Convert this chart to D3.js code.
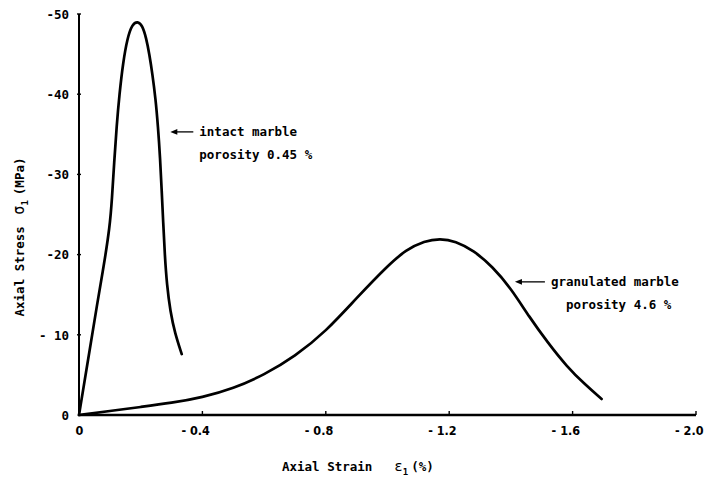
<!DOCTYPE html>
<html>
<head>
<meta charset="utf-8">
<script src="https://cdn.jsdelivr.net/npm/d3@7"></script>
<style>
  html, body { margin: 0; padding: 0; background: #fff; }
  svg { display: block; }
  text { font-family: "DejaVu Sans Mono", monospace; font-weight: bold; fill: #000; }
</style>
</head>
<body>
<svg id="chart" width="704" height="479"></svg>
<script>
// ---- data (axial strain %, axial stress MPa; compression negative) ----
const intactStrain = [0, -0.030, -0.059, -0.080, -0.100, -0.107, -0.114, -0.122, -0.131, -0.143, -0.157, -0.172, -0.190, -0.205, -0.218, -0.228, -0.238, -0.248, -0.256, -0.263, -0.268, -0.273, -0.278, -0.285, -0.296, -0.311, -0.333];
const intactStress = [0, -7.0, -13.9, -18.5, -23.5, -27.0, -31.5, -36.0, -40.0, -44.0, -47.0, -48.7, -49.1, -48.6, -47.0, -45.0, -42.5, -39.5, -36.0, -32.0, -28.0, -24.0, -20.0, -16.2, -12.9, -10.2, -7.6];

const granStrain = [0, -0.1, -0.2, -0.3, -0.4, -0.5, -0.6, -0.7, -0.8, -0.9, -1.0, -1.06, -1.12, -1.17, -1.22, -1.28, -1.34, -1.40, -1.46, -1.52, -1.58, -1.64, -1.694];
const granStress = [0, -0.5, -1.0, -1.5, -2.2, -3.3, -5.0, -7.3, -10.4, -14.6, -18.6, -20.6, -21.7, -22.0, -21.7, -20.5, -18.5, -15.8, -12.2, -9.0, -6.1, -3.8, -2.0];

const xTickValues = [0, -0.4, -0.8, -1.2, -1.6, -2.0];
const xTickLabels = ["0", "- 0.4", "- 0.8", "- 1.2", "- 1.6", "- 2.0"];
const yTickValues = [0, -10, -20, -30, -40, -50];
const yTickLabels = ["0", "- 10", "-20", "-30", "-40", "-50"];

const annoLabels = [
  ["intact marble", "porosity 0.45 %"],
  ["granulated marble", "porosity 4.6 %"]
];
const annoStrain = [-0.296, -1.413];
const annoStress = [-35.3, -16.6];

// ---- layout ----
const svg = d3.select("#chart");
const x = d3.scaleLinear().domain([0, -2.0]).range([79, 696]);
const y = d3.scaleLinear().domain([0, -50]).range([415, 14]);

// axes
const xAxis = d3.axisBottom(x).tickValues(xTickValues).tickSize(0).tickFormat((d, i) => xTickLabels[i]);
const yAxis = d3.axisLeft(y).tickValues(yTickValues).tickSize(0).tickFormat((d, i) => yTickLabels[i]);

const gx = svg.append("g").attr("transform", `translate(0,${y(0)})`).call(xAxis);
gx.select(".domain").remove();
gx.selectAll("text")
  .attr("y", 11).attr("dy", "0.71em")
  .attr("text-anchor", (d, i) => i === 0 ? "middle" : "end")
  .attr("x", (d, i) => i === 0 ? 0 : 7)
  .style("font-family", "'DejaVu Sans Condensed', 'DejaVu Sans', sans-serif")
  .style("font-size", "12.5px");

const gy = svg.append("g").attr("transform", `translate(${x(0)},0)`).call(yAxis);
gy.select(".domain").remove();
gy.selectAll("text").attr("x", -10).attr("dy", "0.35em").style("font-size", "12.5px");

// axis lines
svg.append("line").attr("x1", x(0)).attr("x2", x(-2.0)).attr("y1", y(0)).attr("y2", y(0))
  .attr("stroke", "#000").attr("stroke-width", 2.6);
svg.append("line").attr("x1", x(0)).attr("x2", x(0)).attr("y1", y(0)).attr("y2", y(-50))
  .attr("stroke", "#000").attr("stroke-width", 2);

// inward ticks
svg.selectAll(".xt").data(xTickValues.slice(1)).enter().append("line")
  .attr("x1", d => x(d)).attr("x2", d => x(d)).attr("y1", y(0)).attr("y2", y(0) - 4)
  .attr("stroke", "#000").attr("stroke-width", 1.4);
svg.selectAll(".yt").data(yTickValues.slice(1)).enter().append("line")
  .attr("x1", x(0) - 2).attr("x2", x(0) + 2).attr("y1", d => y(d)).attr("y2", d => y(d))
  .attr("stroke", "#000").attr("stroke-width", 1.4);

// curves
const line = d3.line().x(d => x(d[0])).y(d => y(d[1])).curve(d3.curveBasis);
const intact = intactStrain.map((s, i) => [s, intactStress[i]]);
const gran = granStrain.map((s, i) => [s, granStress[i]]);
[intact, gran].forEach(data => {
  svg.append("path").datum(data).attr("d", line)
    .attr("fill", "none").attr("stroke", "#000").attr("stroke-width", 2.7)
    .attr("stroke-linejoin", "round").attr("stroke-linecap", "round");
});

// annotations with arrows
const arrowLen = [23, 30];
annoLabels.forEach((lines, i) => {
  const ax = x(annoStrain[i]), ay = y(annoStress[i]);
  const g = svg.append("g");
  g.append("line").attr("x1", ax + 3).attr("x2", ax + arrowLen[i]).attr("y1", ay).attr("y2", ay)
    .attr("stroke", "#000").attr("stroke-width", 1.3);
  g.append("path").attr("d", `M${ax},${ay} L${ax + 7},${ay - 2.8} L${ax + 7},${ay + 2.8} Z`).attr("fill", "#000");
  const tx = ax + arrowLen[i] + 6;
  g.append("text").attr("x", tx).attr("y", ay).attr("dy", "0.3em").style("font-size", "12.5px").text(lines[0]);
  g.append("text").attr("x", tx + (i === 1 ? 15 : 0)).attr("y", ay + 23).attr("dy", "0.3em").style("font-size", "12.5px").text(lines[1]);
});

// axis titles
const xt = svg.append("text").attr("x", 282).attr("y", 471).style("font-size", "12.5px");
xt.append("tspan").text("Axial Strain");
xt.append("tspan").attr("dx", 22).style("font-size", "14px").style("font-weight", "normal").text("ε");
xt.append("tspan").attr("dy", 4).style("font-size", "9px").text("1");
xt.append("tspan").attr("dy", -4).attr("dx", 3).text("(%)");

const yt = svg.append("text").attr("transform", "translate(24,237) rotate(-90)").attr("text-anchor", "middle").style("font-size", "12.5px");
yt.append("tspan").text("Axial Stress ");
yt.append("tspan").attr("dx", 4).style("font-size", "15px").style("font-weight", "normal").text("σ");
yt.append("tspan").attr("dy", 4).style("font-size", "9px").text("1");
yt.append("tspan").attr("dy", -4).attr("dx", 5).text("(MPa)");
</script>
</body>
</html>
